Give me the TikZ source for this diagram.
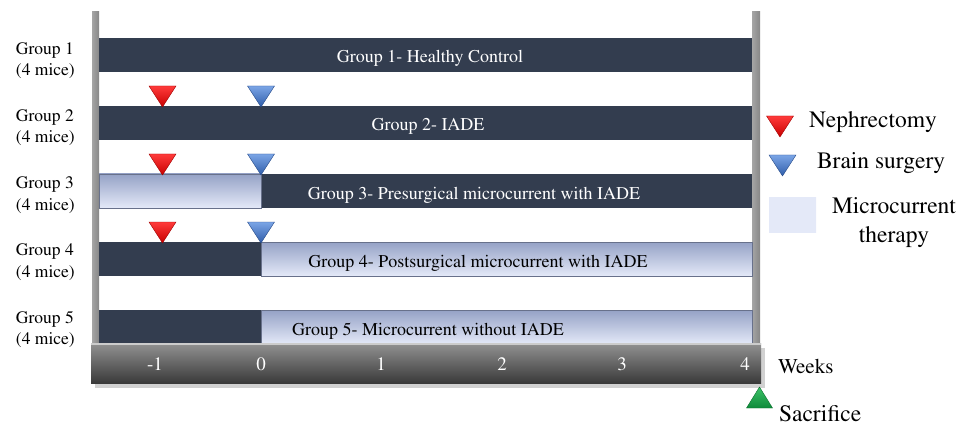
\documentclass[tikz,border=0pt]{standalone}
\usepackage[T1]{fontenc}
\usepackage{times}
\usetikzlibrary{positioning}

\definecolor{bardark}{HTML}{333D4F}
\definecolor{mctop}{HTML}{95A2C6}
\definecolor{mcbot}{HTML}{E4E9F8}
\definecolor{railgray}{HTML}{878787}
\definecolor{axtop}{HTML}{929292}
\definecolor{axmid}{HTML}{6A6A6A}
\definecolor{axbot}{HTML}{3A3A3A}
\definecolor{redtop}{HTML}{FF3B3B}
\definecolor{redbot}{HTML}{C80000}
\definecolor{bluetop}{HTML}{7BA5E6}
\definecolor{bluebot}{HTML}{2F5DAA}
\definecolor{greentop}{HTML}{3CC267}
\definecolor{greenbot}{HTML}{0E8A3A}

\begin{document}
\begin{tikzpicture}[
    x=1pt, y=-1pt,          % one unit per pixel, y runs down
    every node/.style={inner sep=0pt, outer sep=0pt},
    dark/.style={fill=bardark},
    micro/.style={top color=mctop, bottom color=mcbot, draw=mctop!70!black, line width=0.4pt},
    axisbar/.style={top color=axtop, middle color=axmid, bottom color=axbot},
    grp/.style={font=\fontsize{17.5}{21.5}\selectfont, align=left, anchor=north west},
    bartext/.style={font=\fontsize{18}{20}\selectfont, anchor=base},
    tick/.style={font=\fontsize{19}{20}\selectfont, text=white, anchor=base},
    keytext/.style={font=\fontsize{23.5}{29}\selectfont},
    nephro/.pic={\shade[top color=redtop, bottom color=redbot, draw=redbot!80!black, line width=0.4pt]
        (-13.5,0) -- (13.5,0) -- (0,21) -- cycle;},
    brain/.pic={\shade[top color=bluetop, bottom color=bluebot, draw=bluebot!80!black, line width=0.4pt]
        (-13.5,0) -- (13.5,0) -- (0,21) -- cycle;},
    sacrifice/.pic={\shade[top color=greentop, bottom color=greenbot, draw=greenbot!80!black, line width=0.4pt]
        (-13,21) -- (13,21) -- (0,0) -- cycle;}]
    \useasboundingbox (0,0) rectangle (964,425);

    % side rails
    \shade[left color=railgray!75!white, right color=railgray] (92,12) rectangle (99,344);
    \shade[left color=railgray!75!white, right color=railgray] (752,12) rectangle (760,344);

    % group bars
    \foreach \yt in {38,106,174,242,310}
        \fill[dark] (99,\yt) rectangle (752,\yt+34);
    \path[micro] (99,174) rectangle (261,208);
    \path[micro] (261,242) rectangle (752,276);
    \path[micro] (261,310) rectangle (752,344);

    % surgery marks
    \foreach \yt in {86,154,222} {
        \pic at (162.5,\yt) {nephro};
        \pic at (261,\yt) {brain};
    }

    % Nodes
    \foreach \i in {1,...,5}
        \node[grp] (lab\i) at (16,42.2+67.3*\i-67.3) {Group \i\\(4 mice)};

    \node[bartext, text=white] (txt1) at (430,63) {Group 1- Healthy Control};
    \node[bartext, text=white] (txt2) at (428,131) {Group 2- IADE};
    \node[bartext, text=white] (txt3) at (474,199) {Group 3- Presurgical microcurrent with IADE};
    \node[bartext] (txt4) at (478,267) {Group 4- Postsurgical microcurrent with IADE};
    \node[bartext] (txt5) at (428,335) {Group 5- Microcurrent without IADE};

    % week axis
    \fill[black!18] (95,348) rectangle (765,388);
    \node[axisbar, minimum width=670pt, minimum height=40pt, anchor=north west] (axis) at (91,343) {};
    \draw[white!60!gray, line width=1.5pt] ([yshift=-1pt]axis.north west) -- ([yshift=-1pt]axis.north east);
    \foreach \w/\xx [count=\i] in {-1/155, 0/261, 1/381, 2/502, 3/622, 4/745}
        \node[tick] (wk\i) at (\xx,370) {\w};
    \node[font=\fontsize{21}{24}\selectfont, anchor=base west] (weeks) at (778,373) {Weeks};

    \pic at (759.5,387) {sacrifice};
    \node[keytext, anchor=base west] (sac) at (779,421) {Sacrifice};

    % legend
    \pic at (780,116) {nephro};
    \node[keytext, anchor=base west] (keyneph) at (809,128) {Nephrectomy};
    \pic at (782.5,155) {brain};
    \node[keytext, anchor=base west] (keybrain) at (817,168) {Brain surgery};
    \shade[top color=mcbot, middle color=mctop!65!white, bottom color=mcbot] (769,197) rectangle (816,232);
    \node[keytext, align=center, anchor=north] (keymc) at (894,197.5) {Microcurrent\\therapy};
\end{tikzpicture}
\end{document}
